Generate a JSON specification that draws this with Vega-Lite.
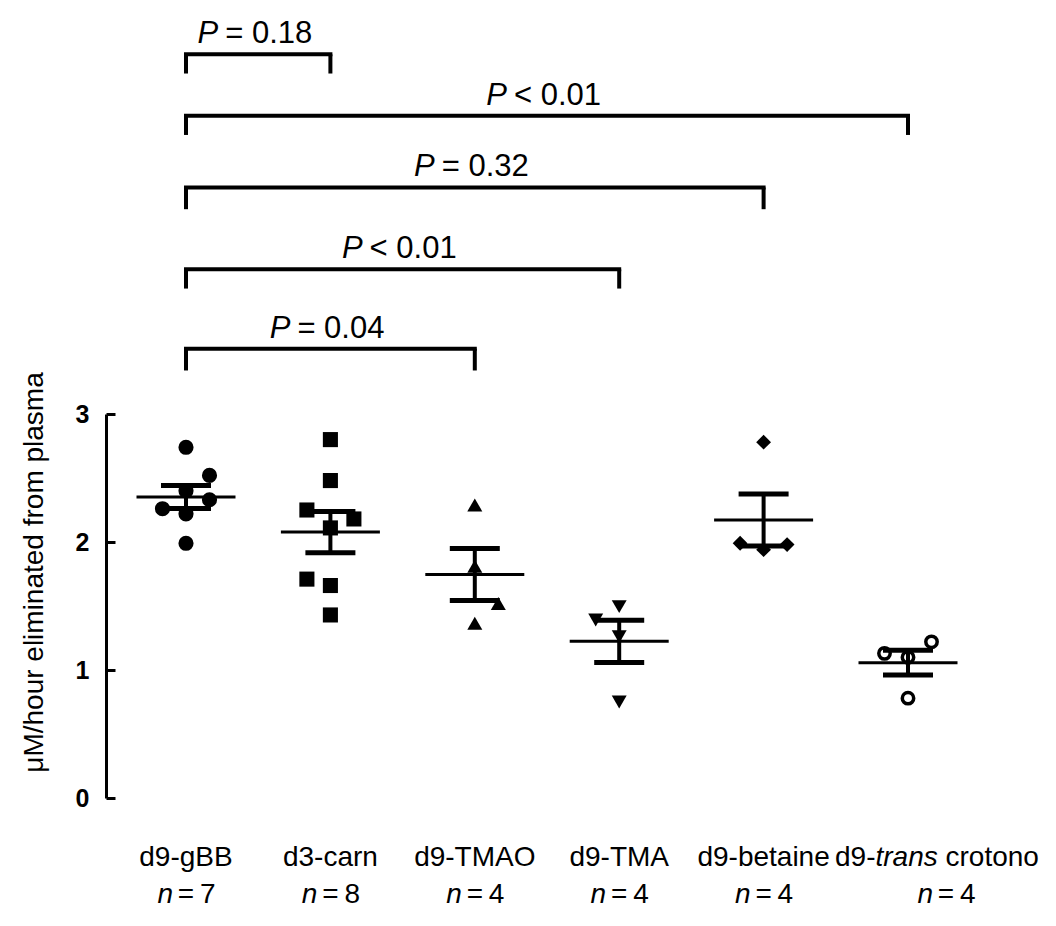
{
  "$schema": "https://vega.github.io/schema/vega-lite/v6.json",
  "width": 882,
  "height": 384,
  "autosize": "none",
  "padding": {"left": 106, "top": 414, "right": 68, "bottom": 128},
  "background": "white",
  "config": {"font": "Liberation Sans", "view": {"stroke": null}},
  "datasets": {
    "points": [
      {"group": "d9-gBB", "v": 2.74, "jit": "C"},
      {"group": "d9-gBB", "v": 2.52, "jit": "R"},
      {"group": "d9-gBB", "v": 2.40, "jit": "C"},
      {"group": "d9-gBB", "v": 2.33, "jit": "R"},
      {"group": "d9-gBB", "v": 2.26, "jit": "L"},
      {"group": "d9-gBB", "v": 2.22, "jit": "C"},
      {"group": "d9-gBB", "v": 1.99, "jit": "C"},
      {"group": "d3-carn", "v": 2.80, "jit": "C"},
      {"group": "d3-carn", "v": 2.48, "jit": "C"},
      {"group": "d3-carn", "v": 2.25, "jit": "L"},
      {"group": "d3-carn", "v": 2.18, "jit": "R"},
      {"group": "d3-carn", "v": 2.11, "jit": "C"},
      {"group": "d3-carn", "v": 1.71, "jit": "L"},
      {"group": "d3-carn", "v": 1.66, "jit": "C"},
      {"group": "d3-carn", "v": 1.43, "jit": "C"},
      {"group": "d9-TMAO", "v": 2.29, "jit": "C"},
      {"group": "d9-TMAO", "v": 1.81, "jit": "C"},
      {"group": "d9-TMAO", "v": 1.52, "jit": "R"},
      {"group": "d9-TMAO", "v": 1.365, "jit": "C"},
      {"group": "d9-TMA", "v": 1.495, "jit": "C"},
      {"group": "d9-TMA", "v": 1.39, "jit": "L"},
      {"group": "d9-TMA", "v": 1.26, "jit": "C"},
      {"group": "d9-TMA", "v": 0.75, "jit": "C"},
      {"group": "d9-betaine", "v": 2.78, "jit": "C"},
      {"group": "d9-betaine", "v": 1.99, "jit": "L"},
      {"group": "d9-betaine", "v": 1.94, "jit": "C"},
      {"group": "d9-betaine", "v": 1.98, "jit": "R"},
      {"group": "d9-trans crotono", "v": 1.22, "jit": "R"},
      {"group": "d9-trans crotono", "v": 1.13, "jit": "L"},
      {"group": "d9-trans crotono", "v": 1.10, "jit": "C"},
      {"group": "d9-trans crotono", "v": 0.78, "jit": "C"}
    ],
    "groups": [
      {"group": "d9-gBB", "n": 7},
      {"group": "d3-carn", "n": 8},
      {"group": "d9-TMAO", "n": 4},
      {"group": "d9-TMA", "n": 4},
      {"group": "d9-betaine", "n": 4},
      {"group": "d9-trans crotono", "n": 4}
    ],
    "brackets": [
      {"from": "d9-gBB", "to": "d3-carn", "top": 5.81, "bottom": 5.66, "label": "= 0.18"},
      {"from": "d9-gBB", "to": "d9-trans crotono", "top": 5.33, "bottom": 5.18, "label": "< 0.01"},
      {"from": "d9-gBB", "to": "d9-betaine", "top": 4.77, "bottom": 4.60, "label": "= 0.32"},
      {"from": "d9-gBB", "to": "d9-TMA", "top": 4.13, "bottom": 3.98, "label": "< 0.01"},
      {"from": "d9-gBB", "to": "d9-TMAO", "top": 3.51, "bottom": 3.34, "label": "= 0.04"}
    ]
  },
  "resolve": {"scale": {"xOffset": "independent"}},
  "layer": [
    {
      "data": {"name": "points"},
      "transform": [{"filter": "datum.group !== 'd9-trans crotono'"}],
      "mark": {"type": "point", "filled": true, "color": "black", "opacity": 1},
      "encoding": {
        "x": {"field": "group", "type": "nominal", "scale": {"domain": ["d9-gBB", "d3-carn", "d9-TMAO", "d9-TMA", "d9-betaine", "d9-trans crotono"], "paddingInner": 0, "paddingOuter": 0.054}, "axis": null},
        "xOffset": {"field": "jit", "type": "nominal", "scale": {"type": "point", "domain": ["L", "C", "R"], "range": [48.7, 95.7], "padding": 0}},
        "y": {"field": "v", "type": "quantitative", "scale": {"domain": [0, 3], "nice": false},
          "axis": {"values": [0, 1, 2, 3], "format": "d", "title": "μM/hour eliminated from plasma", "grid": false,
            "domainColor": "black", "domainWidth": 3, "tickColor": "black", "tickWidth": 3, "tickSize": -9,
            "labelFont": "Liberation Sans", "labelFontSize": 25, "labelFontWeight": "bold", "labelColor": "black", "labelPadding": 26,
            "titleFont": "Liberation Sans", "titleFontSize": 28, "titleFontWeight": "normal", "titleColor": "black",
            "titleX": -64, "titleY": 158, "titleAngle": -90, "titleAlign": "center", "titleBaseline": "alphabetic"}},
        "shape": {"field": "group", "type": "nominal", "legend": null, "scale": {"domain": ["d9-gBB", "d3-carn", "d9-TMAO", "d9-TMA", "d9-betaine"], "range": ["circle", "square", "triangle-up", "triangle-down", "diamond"]}},
        "size": {"field": "group", "type": "nominal", "legend": null, "scale": {"domain": ["d9-gBB", "d3-carn", "d9-TMAO", "d9-TMA", "d9-betaine"], "range": [230, 220, 340, 340, 420]}}
      }
    },
    {
      "data": {"name": "points"},
      "transform": [{"filter": "datum.group === 'd9-trans crotono'"}],
      "mark": {"type": "point", "shape": "circle", "filled": false, "fill": "white", "fillOpacity": 1, "stroke": "black", "strokeWidth": 3.5, "size": 130, "opacity": 1},
      "encoding": {
        "x": {"field": "group", "type": "nominal"},
        "xOffset": {"field": "jit", "type": "nominal", "scale": {"type": "point", "domain": ["L", "C", "R"], "range": [48.7, 95.7], "padding": 0}},
        "y": {"field": "v", "type": "quantitative", "title": "μM/hour eliminated from plasma", "scale": {"domain": [0, 3], "nice": false}}
      }
    },
    {
      "data": {"name": "points"},
      "mark": {"type": "tick", "color": "black", "size": 99, "thickness": 3, "opacity": 1},
      "encoding": {
        "x": {"field": "group", "type": "nominal"},
        "y": {"aggregate": "mean", "field": "v", "type": "quantitative", "title": "μM/hour eliminated from plasma", "scale": {"domain": [0, 3], "nice": false}}
      }
    },
    {
      "data": {"name": "points"},
      "mark": {"type": "errorbar", "extent": "stderr", "color": "black", "rule": {"strokeWidth": 4}, "ticks": {"size": 50, "thickness": 5, "opacity": 1}},
      "encoding": {
        "x": {"field": "group", "type": "nominal"},
        "y": {"field": "v", "type": "quantitative", "title": "μM/hour eliminated from plasma", "scale": {"domain": [0, 3], "nice": false}}
      }
    },
    {
      "data": {"name": "brackets"},
      "mark": {"type": "rule", "color": "black", "strokeWidth": 4, "strokeCap": "square"},
      "encoding": {
        "x": {"field": "from", "type": "nominal", "bandPosition": 0.5},
        "x2": {"field": "to", "bandPosition": 0.5},
        "y": {"field": "top", "type": "quantitative", "title": "μM/hour eliminated from plasma", "scale": {"domain": [0, 3], "nice": false}}
      }
    },
    {
      "data": {"name": "brackets"},
      "mark": {"type": "rule", "color": "black", "strokeWidth": 4},
      "encoding": {
        "x": {"field": "from", "type": "nominal"},
        "y": {"field": "top", "type": "quantitative", "title": "μM/hour eliminated from plasma", "scale": {"domain": [0, 3], "nice": false}},
        "y2": {"field": "bottom"}
      }
    },
    {
      "data": {"name": "brackets"},
      "mark": {"type": "rule", "color": "black", "strokeWidth": 4},
      "encoding": {
        "x": {"field": "to", "type": "nominal"},
        "y": {"field": "top", "type": "quantitative", "title": "μM/hour eliminated from plasma", "scale": {"domain": [0, 3], "nice": false}},
        "y2": {"field": "bottom"}
      }
    },
    {
      "data": {"name": "brackets"},
      "mark": {"type": "text", "text": "P", "fontStyle": "italic", "fontSize": 31, "align": "right", "baseline": "alphabetic", "dx": -40, "dy": -11, "color": "black"},
      "encoding": {
        "x": {"field": "from", "type": "nominal"},
        "xOffset": {"field": "to", "type": "nominal", "scale": {"type": "point", "domain": ["d3-carn", "d9-TMAO", "d9-TMA", "d9-betaine", "d9-trans crotono"], "range": [144.4, 433.2], "padding": 0}},
        "y": {"field": "top", "type": "quantitative", "title": "μM/hour eliminated from plasma", "scale": {"domain": [0, 3], "nice": false}}
      }
    },
    {
      "data": {"name": "brackets"},
      "mark": {"type": "text", "fontSize": 31, "align": "left", "baseline": "alphabetic", "dx": -33, "dy": -11, "color": "black"},
      "encoding": {
        "x": {"field": "from", "type": "nominal"},
        "xOffset": {"field": "to", "type": "nominal", "scale": {"type": "point", "domain": ["d3-carn", "d9-TMAO", "d9-TMA", "d9-betaine", "d9-trans crotono"], "range": [144.4, 433.2], "padding": 0}},
        "y": {"field": "top", "type": "quantitative", "title": "μM/hour eliminated from plasma", "scale": {"domain": [0, 3], "nice": false}},
        "text": {"field": "label", "type": "nominal"}
      }
    },
    {
      "data": {"name": "groups"},
      "transform": [{"filter": "datum.group !== 'd9-trans crotono'"}],
      "mark": {"type": "text", "fontSize": 28, "align": "center", "baseline": "alphabetic", "dy": 68, "color": "black"},
      "encoding": {
        "x": {"field": "group", "type": "nominal"},
        "y": {"datum": 0},
        "text": {"field": "group", "type": "nominal"}
      }
    },
    {
      "data": {"name": "groups"},
      "transform": [{"filter": "datum.group === 'd9-trans crotono'"}],
      "mark": {"type": "text", "text": "d9-", "fontSize": 28, "align": "left", "baseline": "alphabetic", "dx": -73, "dy": 68, "color": "black"},
      "encoding": {"x": {"field": "group", "type": "nominal"}, "y": {"datum": 0}}
    },
    {
      "data": {"name": "groups"},
      "transform": [{"filter": "datum.group === 'd9-trans crotono'"}],
      "mark": {"type": "text", "text": "trans", "fontStyle": "italic", "fontSize": 28, "align": "left", "baseline": "alphabetic", "dx": -32.5, "dy": 68, "color": "black"},
      "encoding": {"x": {"field": "group", "type": "nominal"}, "y": {"datum": 0}}
    },
    {
      "data": {"name": "groups"},
      "transform": [{"filter": "datum.group === 'd9-trans crotono'"}],
      "mark": {"type": "text", "text": "crotono", "fontSize": 28, "align": "left", "baseline": "alphabetic", "dx": 37.5, "dy": 68, "color": "black"},
      "encoding": {"x": {"field": "group", "type": "nominal"}, "y": {"datum": 0}}
    },
    {
      "data": {"name": "groups"},
      "transform": [{"filter": "datum.group !== 'd9-trans crotono'"}],
      "mark": {"type": "text", "text": "n", "fontStyle": "italic", "fontSize": 28, "align": "right", "baseline": "alphabetic", "dx": -13, "dy": 105, "color": "black"},
      "encoding": {"x": {"field": "group", "type": "nominal"}, "y": {"datum": 0}}
    },
    {
      "data": {"name": "groups"},
      "transform": [{"filter": "datum.group !== 'd9-trans crotono'"}],
      "mark": {"type": "text", "text": "=", "fontSize": 28, "align": "center", "baseline": "alphabetic", "dx": 0, "dy": 105, "color": "black"},
      "encoding": {"x": {"field": "group", "type": "nominal"}, "y": {"datum": 0}}
    },
    {
      "data": {"name": "groups"},
      "transform": [{"filter": "datum.group !== 'd9-trans crotono'"}],
      "mark": {"type": "text", "fontSize": 28, "align": "left", "baseline": "alphabetic", "dx": 14, "dy": 105, "color": "black"},
      "encoding": {"x": {"field": "group", "type": "nominal"}, "y": {"datum": 0}, "text": {"field": "n", "type": "nominal"}}
    },
    {
      "data": {"name": "groups"},
      "transform": [{"filter": "datum.group === 'd9-trans crotono'"}],
      "mark": {"type": "text", "text": "n", "fontStyle": "italic", "fontSize": 28, "align": "right", "baseline": "alphabetic", "dx": 25, "dy": 105, "color": "black"},
      "encoding": {"x": {"field": "group", "type": "nominal"}, "y": {"datum": 0}}
    },
    {
      "data": {"name": "groups"},
      "transform": [{"filter": "datum.group === 'd9-trans crotono'"}],
      "mark": {"type": "text", "text": "=", "fontSize": 28, "align": "center", "baseline": "alphabetic", "dx": 38, "dy": 105, "color": "black"},
      "encoding": {"x": {"field": "group", "type": "nominal"}, "y": {"datum": 0}}
    },
    {
      "data": {"name": "groups"},
      "transform": [{"filter": "datum.group === 'd9-trans crotono'"}],
      "mark": {"type": "text", "fontSize": 28, "align": "left", "baseline": "alphabetic", "dx": 52, "dy": 105, "color": "black"},
      "encoding": {"x": {"field": "group", "type": "nominal"}, "y": {"datum": 0}, "text": {"field": "n", "type": "nominal"}}
    }
  ]
}
